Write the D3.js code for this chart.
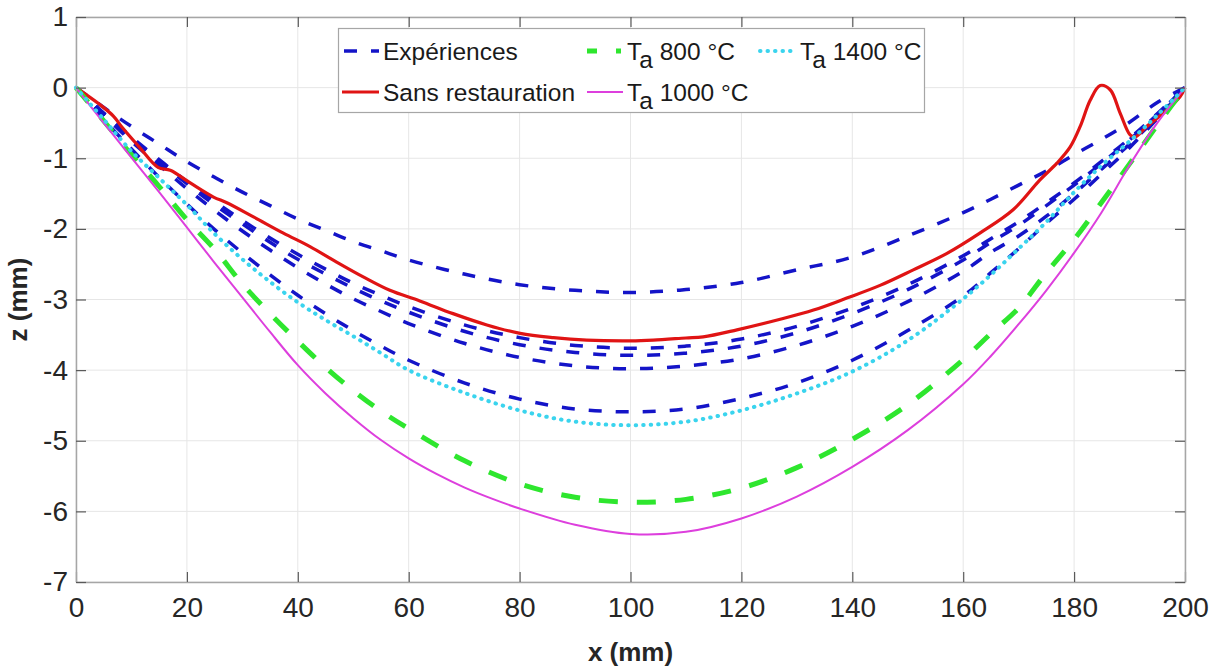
<!DOCTYPE html>
<html>
<head>
<meta charset="utf-8">
<script src="https://cdn.jsdelivr.net/npm/d3@7"></script>
<style>
  html, body { margin: 0; padding: 0; background: #ffffff; }
  svg { display: block; font-family: "Liberation Sans", Arial, Helvetica, sans-serif; }
</style>
</head>
<body>
<svg id="chart" width="1220" height="666"></svg>
<script>
// ---------- data ----------
const xTicks = [0, 20, 40, 60, 80, 100, 120, 140, 160, 180, 200];
const yTicks = [-7, -6, -5, -4, -3, -2, -1, 0, 1];

const xGrid = [0, 5, 10, 15, 20, 25, 30, 35, 40, 45, 50, 55, 60, 70, 80, 90, 100,
               110, 120, 130, 140, 150, 160, 165, 170, 175, 180, 185, 190, 195, 200];

const exp1 = [0, -0.28, -0.55, -0.80, -1.05, -1.27, -1.48, -1.67, -1.86, -2.02, -2.18, -2.31, -2.44, -2.64, -2.79, -2.87, -2.90,
              -2.86, -2.76, -2.58, -2.40, -2.10, -1.77, -1.58, -1.38, -1.18, -0.95, -0.73, -0.49, -0.21, 0];
const exp2 = [0, -0.36, -0.70, -1.02, -1.33, -1.61, -1.88, -2.13, -2.36, -2.57, -2.77, -2.94, -3.10, -3.36, -3.54, -3.65, -3.69,
              -3.66, -3.56, -3.38, -3.12, -2.79, -2.38, -2.14, -1.90, -1.63, -1.35, -1.04, -0.72, -0.37, 0];
const exp3 = [0, -0.37, -0.72, -1.05, -1.36, -1.66, -1.93, -2.19, -2.43, -2.64, -2.84, -3.02, -3.18, -3.45, -3.64, -3.75, -3.79,
              -3.76, -3.66, -3.47, -3.20, -2.86, -2.44, -2.19, -1.95, -1.67, -1.38, -1.07, -0.74, -0.38, 0];
const exp4 = [0, -0.39, -0.76, -1.10, -1.43, -1.74, -2.03, -2.30, -2.55, -2.78, -2.99, -3.17, -3.34, -3.62, -3.82, -3.94, -3.98,
              -3.94, -3.84, -3.65, -3.38, -3.03, -2.60, -2.33, -2.10, -1.82, -1.50, -1.15, -0.80, -0.42, 0];
const exp5 = [0, -0.45, -0.87, -1.27, -1.65, -2.01, -2.34, -2.65, -2.94, -3.20, -3.44, -3.66, -3.86, -4.18, -4.41, -4.55, -4.59,
              -4.55, -4.40, -4.18, -3.86, -3.44, -2.95, -2.62, -2.28, -1.92, -1.58, -1.22, -0.85, -0.44, 0];

const ta800 = [0, -0.47, -0.95, -1.40, -1.87, -2.29, -2.78, -3.20, -3.59, -3.96, -4.29, -4.58, -4.83, -5.28, -5.61, -5.80, -5.87,
               -5.83, -5.67, -5.38, -4.98, -4.49, -3.85, -3.48, -3.12, -2.62, -2.15, -1.62, -1.08, -0.53, 0];
const ta1400 = [0, -0.45, -0.90, -1.28, -1.66, -2.07, -2.43, -2.75, -3.04, -3.29, -3.52, -3.76, -4.00, -4.32, -4.57, -4.73, -4.78,
                -4.73, -4.57, -4.33, -4.02, -3.58, -2.99, -2.65, -2.28, -1.90, -1.48, -1.10, -0.76, -0.39, 0];

const ta1000X = [0, 5, 10, 15, 20, 25, 30, 35, 40, 45, 50, 55, 60, 65, 70, 75, 80, 90, 100,
                 110, 120, 130, 140, 150, 160, 165, 170, 175, 180, 185, 190, 195, 200];
const ta1000 = [0, -0.50, -0.99, -1.48, -1.98, -2.48, -2.97, -3.46, -3.93, -4.33, -4.68, -4.99, -5.25, -5.47, -5.66, -5.82, -5.96,
                -6.19, -6.32, -6.29, -6.10, -5.79, -5.37, -4.85, -4.20, -3.80, -3.35, -2.87, -2.34, -1.76, -1.10, -0.50, 0];

const redX = [0, 4.3, 6.7, 8.5, 11.5, 14.8, 17, 20.6, 24.8, 27.2, 32, 37.4, 42.2, 47, 51.8, 56.6, 62, 68, 74.1, 80.1, 86.1,
              92.1, 100, 104.1, 110, 113.1, 119.2, 127, 133, 139, 145, 151, 157, 163, 169, 173.8, 176.9, 179.3, 181.1,
              182.9, 184.7, 186.5, 188.3, 190.1, 191, 193.1, 196.1, 199.1, 200];
const redZ = [0, -0.24, -0.40, -0.58, -0.85, -1.13, -1.17, -1.35, -1.55, -1.63, -1.83, -2.06, -2.25, -2.47, -2.68, -2.87, -3.02,
              -3.20, -3.36, -3.48, -3.54, -3.575, -3.585, -3.575, -3.545, -3.53, -3.43, -3.28, -3.15, -2.98, -2.80, -2.58,
              -2.35, -2.06, -1.73, -1.31, -1.07, -0.84, -0.55, -0.18, 0.03, -0.03, -0.36, -0.67, -0.70, -0.55, -0.36, -0.13, 0];

const legendLabels = ["Expériences", "Sans restauration", "800 °C", "1000 °C", "1400 °C"];

// ---------- layout ----------
const svg = d3.select("#chart");
const W = 1220, H = 666;
const L = 76, R = 1185, T = 17, B = 582;
svg.append("rect").attr("width", W).attr("height", H).attr("fill", "#ffffff");

const x = d3.scaleLinear().domain([0, 200]).range([L, R]);
const y = d3.scaleLinear().domain([-7, 1]).range([B, T]);

// grid
const grid = svg.append("g");
grid.selectAll("line.gx").data(xTicks).join("line")
  .attr("x1", d => x(d)).attr("x2", d => x(d)).attr("y1", T).attr("y2", B)
  .attr("stroke", "#e6e6e6").attr("stroke-width", 1);
grid.selectAll("line.gy").data(yTicks).join("line")
  .attr("y1", d => y(d)).attr("y2", d => y(d)).attr("x1", L).attr("x2", R)
  .attr("stroke", "#e6e6e6").attr("stroke-width", 1);

// ---------- curves ----------
const BLUE = "#1414c8", RED = "#e01414", GREEN = "#2ee62e", MAG = "#dd3fdd", CYAN = "#3ad4ee";
const DASH_B = "13,14", DASH_G = "19,19", DOT_C = "0.5,7";
const line = d3.line().x(d => x(d[0])).y(d => y(d[1])).curve(d3.curveCatmullRom.alpha(0.5));
const plot = svg.append("g");
function draw(xs, ys, color, width, dash) {
  plot.append("path")
    .attr("d", line(xs.map((v, i) => [v, ys[i]])))
    .attr("fill", "none").attr("stroke", color).attr("stroke-width", width)
    .attr("stroke-dasharray", dash || null)
    .attr("stroke-linecap", dash === DOT_C ? "round" : "butt")
    .attr("stroke-linejoin", "round");
}
[exp1, exp2, exp3, exp4, exp5].forEach(s => draw(xGrid, s, BLUE, 3.5, DASH_B));
draw(redX, redZ, RED, 3.2);
draw(xGrid, ta800, GREEN, 5, DASH_G);
draw(ta1000X, ta1000, MAG, 2);
draw(xGrid, ta1400, CYAN, 4, DOT_C);

// ---------- axes ----------
const axisColor = "#a6a6a6";
const fs = 28;
function styleAxis(g) {
  g.select(".domain").attr("stroke", axisColor).attr("stroke-width", 1.5);
  g.selectAll(".tick line").attr("stroke", "#5a5a5a").attr("stroke-width", 1.2);
  g.selectAll(".tick text").attr("fill", "#262626").attr("font-size", fs)
    .attr("font-family", "'Liberation Sans', Arial, sans-serif");
}
svg.append("g").attr("transform", `translate(0,${B})`)
  .call(d3.axisBottom(x).tickValues(xTicks).tickSizeInner(-10).tickSizeOuter(0).tickPadding(15))
  .call(styleAxis);
svg.append("g").attr("transform", `translate(0,${T})`)
  .call(d3.axisTop(x).tickValues(xTicks).tickSizeInner(-10).tickSizeOuter(0).tickFormat(""))
  .call(styleAxis);
svg.append("g").attr("transform", `translate(${L},0)`)
  .call(d3.axisLeft(y).tickValues(yTicks).tickSizeInner(-10).tickSizeOuter(0).tickPadding(8).tickFormat(d3.format("d")))
  .call(styleAxis);
svg.append("g").attr("transform", `translate(${R},0)`)
  .call(d3.axisRight(y).tickValues(yTicks).tickSizeInner(-10).tickSizeOuter(0).tickFormat(""))
  .call(styleAxis);
// hyphen-minus like MATLAB
svg.selectAll(".tick text").text(function() { return d3.select(this).text().replace("\u2212", "-"); });

// axis titles
svg.append("text").attr("x", (L + R) / 2).attr("y", 661).attr("text-anchor", "middle")
  .attr("font-size", 26).attr("font-weight", "bold").attr("fill", "#262626").text("x (mm)");
svg.append("text").attr("transform", `translate(27,${(T + B) / 2}) rotate(-90)`).attr("text-anchor", "middle")
  .attr("font-size", 26).attr("font-weight", "bold").attr("fill", "#262626").text("z (mm)");

// ---------- legend ----------
const lg = svg.append("g");
lg.append("rect").attr("x", 338.5).attr("y", 28.5).attr("width", 586).attr("height", 84)
  .attr("fill", "#ffffff").attr("stroke", "#a6a6a6").attr("stroke-width", 1.2);
const lfs = 24.5;
const entries = [
  {x0: 342, x1: 379, yy: 51, color: BLUE, w: 3.5, dash: DASH_B, off: -2, tx: 383, sub: false, label: legendLabels[0]},
  {x0: 342, x1: 379, yy: 92, color: RED, w: 3.2, dash: null, off: 0, tx: 383, sub: false, label: legendLabels[1]},
  {x0: 587, x1: 621, yy: 51, color: GREEN, w: 5, dash: DASH_G, off: 9, tx: 627, sub: true, label: legendLabels[2]},
  {x0: 587, x1: 623, yy: 92, color: MAG, w: 2, dash: null, off: 0, tx: 627, sub: true, label: legendLabels[3]},
  {x0: 760, x1: 797, yy: 51, color: CYAN, w: 4, dash: DOT_C, off: 0, tx: 800, sub: true, label: legendLabels[4]}
];
entries.forEach(e => {
  lg.append("line").attr("x1", e.x0).attr("x2", e.x1).attr("y1", e.yy).attr("y2", e.yy)
    .attr("stroke", e.color).attr("stroke-width", e.w)
    .attr("stroke-dasharray", e.dash)
    .attr("stroke-dashoffset", e.off)
    .attr("stroke-linecap", e.dash === DOT_C ? "round" : "butt");
  const t = lg.append("text").attr("x", e.tx).attr("y", e.yy + 9).attr("font-size", lfs).attr("fill", "#1a1a1a");
  if (e.sub) {
    t.append("tspan").text("T");
    t.append("tspan").attr("dy", 8).text("a");
    t.append("tspan").attr("dy", -8).text(" " + e.label);
  } else {
    t.text(e.label);
  }
});
</script>
</body>
</html>
